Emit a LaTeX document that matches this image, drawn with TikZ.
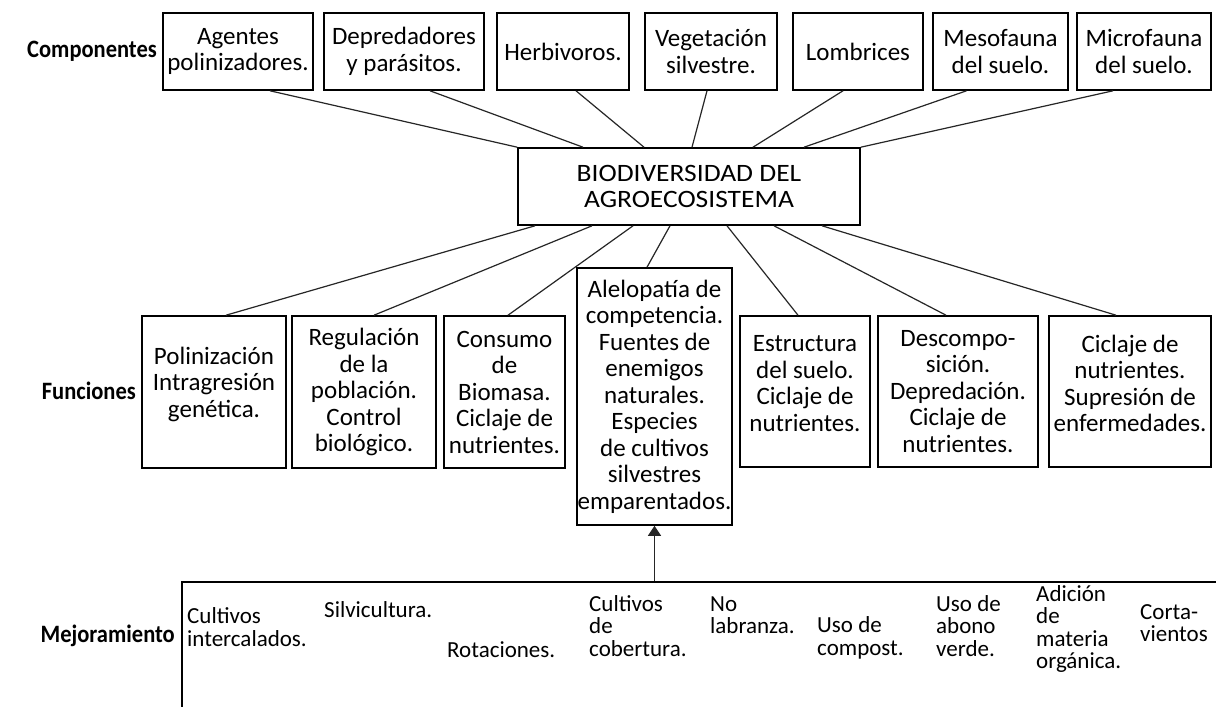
\documentclass[tikz,border=0pt]{standalone}
\usepackage{fontspec}
\setmainfont{Carlito}
\usetikzlibrary{arrows.meta}
\newcommand\myfs{\fontsize{25pt}{26.5pt}\selectfont}
\newcommand\myfsbot{\fontsize{23pt}{22.5pt}\selectfont}
\newcommand\mylabfont{\fontsize{25pt}{26.5pt}\selectfont\bfseries}
\newcommand\wide[1]{\scalebox{1.1}[1]{#1}}
\newcommand\narrowlab[1]{\scalebox{0.9}[1]{#1}}
\begin{document}
\begin{tikzpicture}[x=1pt,y=-1pt,
  box/.style={draw=black, line width=1.6pt, inner sep=0pt, align=center, font=\myfs, text=black},
  conn/.style={line width=1.2pt, draw=black!85},
  lab/.style={font=\mylabfont, anchor=east, inner sep=0pt, text=black},
  txt/.style={inner sep=0pt, align=center, font=\myfs, text=black},
  btxt/.style={inner sep=0pt, align=left, anchor=west, font=\myfsbot, text=black},
]
\useasboundingbox (0,0) rectangle (1216,707);
\fill[white] (0,0) rectangle (1216,707);
\clip (0,0) rectangle (1216,707);

% labels
\node[lab] (lc) at (157,51) {\narrowlab{Componentes}};
\node[lab] (lf) at (136,391) {\narrowlab{Funciones}};
\node[lab] (lm) at (175,636) {\narrowlab{Mejoramiento}};

% top row
\node[box, minimum width=150pt, minimum height=77pt] (A) at (238,51.5) {Agentes\\polinizadores.};
\node[box, minimum width=160pt, minimum height=77pt] (B) at (404,51.5) {Depredadores\\y parásitos.};
\node[box, minimum width=132pt, minimum height=77pt] (C) at (563,51.5) {Herbivoros.};
\node[box, minimum width=132pt, minimum height=77pt] (D) at (711,51.5) {Vegetación\\silvestre.};
\node[box, minimum width=130pt, minimum height=77pt] (E) at (858,51.5) {Lombrices};
\node[box, minimum width=135pt, minimum height=77pt] (F) at (1000.5,51.5) {Mesofauna\\del suelo.};
\node[box, minimum width=134pt, minimum height=77pt] (G) at (1144,51.5) {Microfauna\\del suelo.};

% center
\node[box, minimum width=342pt, minimum height=77pt] (bio) at (689,186.5) {\wide{BIODIVERSIDAD DEL}\\\wide{AGROECOSISTEMA}};

% function row
\node[box, minimum width=144pt, minimum height=152pt] (F1) at (214,392) {};
\node[txt] (t1) at ([yshift=8pt]F1.center) {Polinización\\Intragresión\\genética.};
\node[box, minimum width=144pt, minimum height=152pt] (F2) at (364,392) {Regulación\\de la\\población.\\Control\\biológico.};
\node[box, minimum width=121pt, minimum height=152pt] (F3) at (504.5,392) {Consumo\\de\\Biomasa.\\Ciclaje de\\nutrientes.};
\node[box, minimum width=155pt, minimum height=257pt] (F4) at (654.5,396.5) {Alelopatía de\\competencia.\\Fuentes de\\enemigos\\naturales.\\Especies\\de cultivos\\silvestres\\emparentados.};
\node[box, minimum width=130pt, minimum height=151pt] (F5) at (805,391.5) {};
\node[txt] (t5) at ([yshift=8pt]F5.center) {Estructura\\del suelo.\\Ciclaje de\\nutrientes.};
\node[box, minimum width=160pt, minimum height=151pt] (F6) at (958,391.5) {Descompo-\\sición.\\Depredación.\\Ciclaje de\\nutrientes.};
\node[box, minimum width=162pt, minimum height=151pt] (F7) at (1130,391.5) {};
\node[txt] (t7) at ([yshift=8pt]F7.center) {Ciclaje de\\nutrientes.\\Supresión de\\enfermedades.};

% connectors top
\draw[conn] ([xshift=32pt]A.south) -- (bio.north west);
\draw[conn] ([xshift=26pt]B.south) -- ([xshift=-106pt]bio.north);
\draw[conn] ([xshift=13pt]C.south) -- ([xshift=-45pt]bio.north);
\draw[conn] ([xshift=-4pt]D.south) -- ([xshift=3pt]bio.north);
\draw[conn] ([xshift=-15pt]E.south) -- ([xshift=64pt]bio.north);
\draw[conn] ([xshift=-34pt]F.south) -- ([xshift=115pt]bio.north);
\draw[conn] ([xshift=-31pt]G.south) -- (bio.north east);

% connectors bottom
\draw[conn] ([xshift=-154pt]bio.south) -- ([xshift=12pt]F1.north);
\draw[conn] ([xshift=-97pt]bio.south) -- ([xshift=10pt]F2.north);
\draw[conn] ([xshift=-56pt]bio.south) -- ([xshift=3.5pt]F3.north);
\draw[conn] ([xshift=-19pt]bio.south) -- ([xshift=-7.5pt]F4.north);
\draw[conn] ([xshift=38pt]bio.south) -- ([xshift=-7pt]F5.north);
\draw[conn] ([xshift=85pt]bio.south) -- ([xshift=-12pt]F6.north);
\draw[conn] ([xshift=133pt]bio.south) -- ([xshift=-14pt]F7.north);

% bottom frame
\node[draw=black, line width=1.6pt, minimum width=1100pt, minimum height=200pt, anchor=north west, inner sep=0pt] (mej) at (181,581) {};
\draw[conn, -{Triangle[length=10pt,width=13pt]}] (mej.north -| F4.south) -- (F4.south);

% bottom texts
\node[btxt] (m1) at (187,627) {Cultivos\\intercalados.};
\node[btxt] (m2) at (324,610) {Silvicultura.};
\node[btxt] (m3) at (447,650) {Rotaciones.};
\node[btxt] (m4) at (589,626) {Cultivos\\de\\cobertura.};
\node[btxt] (m5) at (710,615) {No\\labranza.};
\node[btxt] (m6) at (817,638) {Uso de\\compost.};
\node[btxt] (m7) at (936,626) {Uso de\\abono\\verde.};
\node[btxt] (m8) at (1036,629) {Adición\\de\\materia\\orgánica.};
\node[btxt] (m9) at (1140,623) {Corta-\\vientos};
\end{tikzpicture}
\end{document}
